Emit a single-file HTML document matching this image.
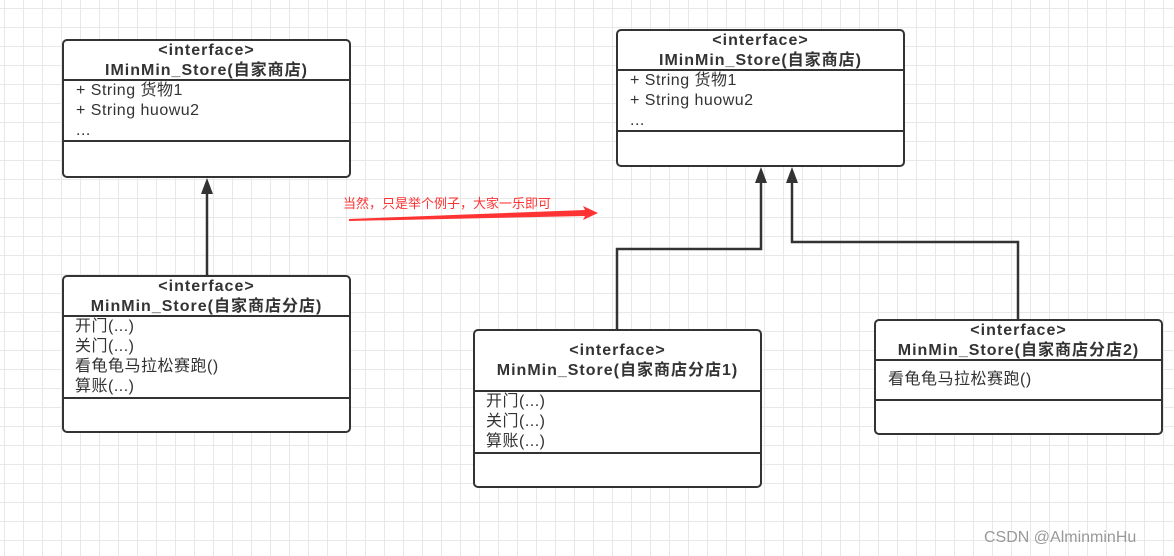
<!DOCTYPE html>
<html><head><meta charset="utf-8"><style>
html,body{margin:0;padding:0}
body{width:1174px;height:556px;position:relative;overflow:hidden;background:#fff;
background-image:linear-gradient(to right,#e8e8e8 1px,transparent 1px),linear-gradient(to bottom,#e8e8e8 1px,transparent 1px);
background-size:19px 19px;background-position:4px 8px;
font-family:"Liberation Sans","Noto Sans CJK SC",sans-serif;color:#333}
.box{position:absolute;border:2.5px solid #333;border-radius:5px;background:#fff;box-sizing:border-box}
.sec{position:absolute;left:0;right:0;border-top:2.5px solid #333}
.hd{position:absolute;left:0;right:0;text-align:center;font-weight:bold;font-size:16px;line-height:20px;letter-spacing:1px}
.at{position:absolute;left:12px;font-size:16px;line-height:20px;letter-spacing:0.5px}
</style></head><body>
<svg width="1174" height="556" style="position:absolute;left:0;top:0">
<g stroke="#333" stroke-width="2.5" fill="none">
<line x1="207" y1="275" x2="207" y2="190"/>
<polyline points="617,329 617,249 761,249 761,180"/>
<polyline points="1018,319 1018,242 792,242 792,180"/>
</g>
<g fill="#333">
<polygon points="207,178 201,194 213,194"/>
<polygon points="761,167 755,183 767,183"/>
<polygon points="792,167 786,183 798,183"/>
</g>
<polygon points="349,219 585,210 583,206 598,213 583,220 585,216 349,221" fill="#f33"/>
<text x="343" y="208" fill="#f33" font-size="13" font-family="Liberation Sans,Noto Sans CJK SC,sans-serif">当然，只是举个例子，大家一乐即可</text>
</svg>

<div class="box" style="left:62px;top:39px;width:289px;height:139px">
<div class="hd" style="top:0">&lt;interface&gt;<br>IMinMin_Store(自家商店)</div>
<div class="sec" style="top:38px"></div>
<div class="at" style="top:40px">+ String 货物1<br>+ String huowu2<br>...</div>
<div class="sec" style="top:99px"></div>
</div>

<div class="box" style="left:62px;top:275px;width:289px;height:158px">
<div class="hd" style="top:0">&lt;interface&gt;<br>MinMin_Store(自家商店分店)</div>
<div class="sec" style="top:38px"></div>
<div class="at" style="top:40px;left:11px">开门(...)<br>关门(...)<br>看龟龟马拉松赛跑()<br>算账(...)</div>
<div class="sec" style="top:120px"></div>
</div>

<div class="box" style="left:616px;top:29px;width:289px;height:138px">
<div class="hd" style="top:0">&lt;interface&gt;<br>IMinMin_Store(自家商店)</div>
<div class="sec" style="top:38px"></div>
<div class="at" style="top:40px">+ String 货物1<br>+ String huowu2<br>...</div>
<div class="sec" style="top:99px"></div>
</div>

<div class="box" style="left:473px;top:329px;width:289px;height:159px">
<div class="hd" style="top:10px">&lt;interface&gt;<br>MinMin_Store(自家商店分店1)</div>
<div class="sec" style="top:59px"></div>
<div class="at" style="top:61px;left:11px">开门(...)<br>关门(...)<br>算账(...)</div>
<div class="sec" style="top:121px"></div>
</div>

<div class="box" style="left:874px;top:319px;width:289px;height:116px">
<div class="hd" style="top:0">&lt;interface&gt;<br>MinMin_Store(自家商店分店2)</div>
<div class="sec" style="top:38px"></div>
<div class="at" style="top:49px">看龟龟马拉松赛跑()</div>
<div class="sec" style="top:78px"></div>
</div>

<div style="position:absolute;left:984px;top:529px;font-size:16px;color:#999">CSDN @AlminminHu</div>
</body></html>
